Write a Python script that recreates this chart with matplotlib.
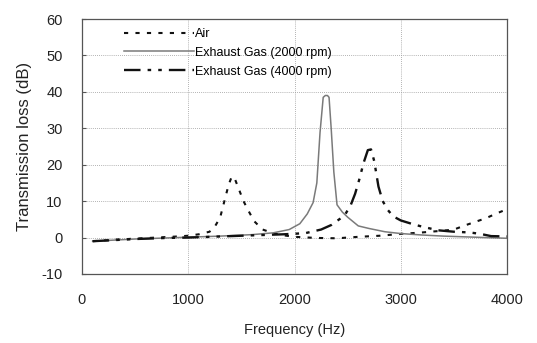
#!/usr/bin/env python
"""Transmission loss vs frequency for air and exhaust gas."""

import matplotlib

matplotlib.use("Agg")
import matplotlib.pyplot as plt

# Air (dashed)
air_freq = [100, 300, 500, 700, 900, 1000, 1100, 1200, 1250, 1300, 1340,
            1380, 1410, 1440, 1480, 1520, 1560, 1620, 1700, 1800, 1900,
            2000, 2200, 2400, 2600, 2800, 3000, 3200, 3400, 3500, 3600,
            3700, 3800, 3900, 4000]
air_tl = [-1.0, -0.6, -0.3, 0.0, 0.3, 0.5, 0.9, 1.6, 3.0, 5.5, 10.0,
          14.5, 16.8, 16.0, 13.0, 10.0, 7.7, 4.5, 2.2, 1.2, 0.6,
          0.2, -0.1, -0.2, 0.2, 0.5, 1.0, 1.4, 1.9, 2.2, 3.3,
          4.3, 5.3, 6.6, 7.8]

# Exhaust gas, 2000 rpm (thin grey solid)
ex2000_freq = [100, 300, 500, 800, 1000, 1300, 1600, 1800, 1950, 2050,
               2120, 2175, 2210, 2240, 2270, 2290, 2310, 2325, 2345, 2370,
               2400, 2450, 2500, 2600, 2700, 2850, 3000, 3200, 3400, 3600,
               3800, 4000]
ex2000_tl = [-1.0, -0.7, -0.4, -0.1, 0.1, 0.4, 0.8, 1.3, 2.2, 3.8,
             6.5, 9.6, 15.0, 28.8, 38.5, 39.0, 39.0, 38.5, 30.0, 18.0,
             9.0, 7.0, 5.6, 3.2, 2.5, 1.6, 1.1, 0.7, 0.4, 0.2,
             0.0, -0.2]

# Exhaust gas, 4000 rpm (dash-dot)
ex4000_freq = [100, 300, 500, 800, 1000, 1300, 1600, 1900, 2100, 2250,
               2350, 2430, 2480, 2530, 2570, 2610, 2650, 2690, 2720, 2750,
               2790, 2830, 2880, 2930, 3000, 3100, 3200, 3350, 3500, 3650,
               3750, 3850, 4000]
ex4000_tl = [-1.0, -0.7, -0.4, -0.1, 0.0, 0.3, 0.6, 0.9, 1.2, 2.2,
             3.5, 5.2, 6.5, 9.0, 12.0, 16.0, 20.5, 24.0, 24.2, 21.0,
             14.0, 10.0, 7.5, 5.8, 4.7, 3.8, 3.0, 2.0, 1.6, 1.4,
             1.0, 0.4, 0.3]

labels = ["Air", "Exhaust Gas (2000 rpm)", "Exhaust Gas (4000 rpm)"]
x_ticks = [0, 1000, 2000, 3000, 4000]
y_ticks = [-10, 0, 10, 20, 30, 40, 50, 60]

plt.rcParams["font.family"] = ["Liberation Sans", "DejaVu Sans"]
plt.rcParams["axes.unicode_minus"] = False

fig = plt.figure(figsize=(5.37, 3.43), dpi=100)
ax = fig.add_axes([0.1527, 0.2012, 0.7915, 0.7434])

ax.plot(air_freq, air_tl, color="#111111", lw=1.5,
        linestyle=(0, (2.0, 3.5)), label=labels[0])
ax.plot(ex2000_freq, ex2000_tl, color="#7a7a7a", lw=1.1,
        linestyle="-", label=labels[1])
ax.plot(ex4000_freq, ex4000_tl, color="#111111", lw=1.7,
        linestyle=(0, (7, 3, 1.5, 3, 1.5, 3)), label=labels[2])

ax.set_xlim(0, 4000)
ax.set_ylim(-10, 60)
ax.set_xticks(x_ticks)
ax.set_yticks(y_ticks)

ax.grid(True, linestyle=(0, (1, 1.5)), color="#9a9a9a", lw=0.6)
for sp in ax.spines.values():
    sp.set_color("#555555")
    sp.set_linewidth(0.9)

ax.tick_params(axis="x", direction="in", length=0, pad=14,
               labelsize=10.5, labelcolor="#222222")
ax.tick_params(axis="y", direction="in", length=3, pad=14,
               labelsize=10.5, labelcolor="#222222", color="#555555")

ax.set_xlabel("Frequency (Hz)", fontsize=10.5, color="#222222", labelpad=11)
ax.set_ylabel("Transmission loss (dB)", fontsize=12, color="#222222",
              labelpad=7)

ax.legend(loc="upper left", bbox_to_anchor=(0.099, 0.965), frameon=False,
          fontsize=9, handlelength=5.6, handletextpad=0.1, labelspacing=0.55,
          borderpad=0, borderaxespad=0)

fig.savefig("out.png", dpi=100)
